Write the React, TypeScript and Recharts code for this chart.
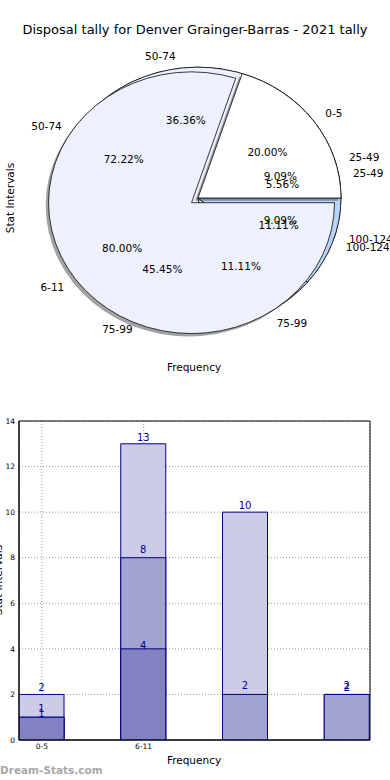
import React from 'react';
import {
  PieChart,
  Pie,
  Cell,
  BarChart,
  Bar,
  XAxis,
  YAxis,
  CartesianGrid,
  LabelList,
  ReferenceArea,
} from 'recharts';

// pie data (three overlaid pies)
const innerLabels = ['0-5', '6-11'];
const innerValues = [1, 4];
const rangeLabels = ['25-49', '50-74', '75-99', '100-124'];
const middleValues = [1, 4, 5, 1];
const outerValues = [1, 13, 2, 2];
const sliceColors = ['#FFFFFF', '#ECF1FD', '#D3E3FC', '#B7D4FA'];

// bar data (overlaid, not stacked)
const barCategories = ['0-5', '6-11', '', ''];
const lightSeries = [2, 13, 10, 2];
const mediumSeries = [1, 8, 2, 2];
const darkSeries: (number | null)[] = [1, 4, null, null];
const yTicks = [0, 2, 4, 6, 8, 10, 12, 14];

const FONT = '"DejaVu Sans", Verdana, sans-serif';
const S = 0.915; // pie is squashed into an ellipse
const CX = 198;
const CY = 198;
const R = 143;
const EXPLODE = 8;
const RAD = Math.PI / 180;

const toRows = (labels: string[], values: number[]) =>
  labels.map((name, i) => ({ name, value: values[i] }));

const innerRows = toRows(innerLabels, innerValues);
const middleRows = toRows(rangeLabels, middleValues);
const outerRows = toRows(rangeLabels, outerValues);

const barRows = barCategories.map((name, i) => ({
  name,
  pos: i + 0.225,
  light: lightSeries[i],
  medium: mediumSeries[i],
  dark: darkSeries[i],
}));

const makeLabel = (explode: number[]) => (props: any) => {
  const { index, name, percent } = props;
  let mid = props.midAngle;
  if (mid == null) mid = (props.startAngle + props.endAngle) / 2;
  const e = explode[index] || 0;
  const c = Math.cos(mid * RAD);
  const s = Math.sin(mid * RAD);
  const d1 = R * 1.1 + e;
  const d2 = R * 0.6 + e;
  const k = `scale(1,${1 / S})`;
  return (
    <g key={`lbl-${name}-${index}`}>
      <text
        transform={`translate(${CX + d1 * c},${CY - d1 * s}) ${k}`}
        textAnchor={c > 0 ? 'start' : 'end'}
        dominantBaseline="central"
        fontSize={10.5}
        fontFamily={FONT}
        fill="#000"
      >
        {name}
      </text>
      <text
        transform={`translate(${CX + d2 * c},${CY - d2 * s}) ${k}`}
        textAnchor="middle"
        dominantBaseline="central"
        fontSize={10.5}
        fontFamily={FONT}
        fill="#000"
      >
        {(percent * 100).toFixed(2)}%
      </text>
    </g>
  );
};

const shadowCells = (rows: any[], show: boolean[]) =>
  rows.map((r, i) => (
    <Cell key={`sh-${i}`} fill={show[i] ? '#474849' : 'none'} fillOpacity={0.5} stroke="none" />
  ));

const sliceCells = (rows: any[], show: boolean[]) =>
  rows.map((r, i) => (
    <Cell
      key={`c-${i}`}
      fill={show[i] ? sliceColors[i] : 'none'}
      stroke={show[i] ? '#000' : 'none'}
      strokeWidth={0.8}
    />
  ));

const barLabel = (off: number) => (props: any) => {
  const { x, y, width, value } = props;
  if (value == null) return null;
  return (
    <text x={x + width / 2} y={y - off} textAnchor="middle" fill="#00008B" fontSize={10} fontFamily={FONT}>
      {value}
    </text>
  );
};

const ex = EXPLODE * Math.cos(216 * RAD);
const ey = -EXPLODE * Math.sin(216 * RAD);
const shx = -0.02 * R;
const shy = (0.02 * R) / S;

const pieCommon = {
  dataKey: 'value',
  outerRadius: R,
  innerRadius: 0,
  startAngle: 0,
  endAngle: 360,
  isAnimationActive: false,
  labelLine: false,
};

export default function App() {
  const all4 = [true, true, true, true];
  return (
    <div
      style={{
        position: 'absolute',
        left: 0,
        top: 0,
        width: 390,
        height: 780,
        overflow: 'hidden',
        background: '#fff',
        fontFamily: FONT,
        color: '#000',
      }}
    >
      <div style={{ position: 'absolute', left: 0, top: 22, width: 390, textAlign: 'center', fontSize: 13, lineHeight: '16px' }}>
        Disposal tally for Denver Grainger-Barras - 2021 tally
      </div>

      <div style={{ position: 'absolute', left: 0, top: 0, transform: `scaleY(${S})`, transformOrigin: `0px ${CY}px` }}>
        <PieChart width={390} height={400} margin={{ top: 0, right: 0, bottom: 0, left: 0 }}>
          <Pie {...pieCommon} data={middleRows} cx={CX + shx} cy={CY + shy}>
            {shadowCells(middleRows, all4)}
          </Pie>
          <Pie {...pieCommon} data={middleRows} cx={CX} cy={CY}>
            {sliceCells(middleRows, all4)}
          </Pie>
          <Pie {...pieCommon} data={outerRows} cx={CX + shx} cy={CY + shy}>
            {shadowCells(outerRows, all4)}
          </Pie>
          <Pie {...pieCommon} data={outerRows} cx={CX} cy={CY}>
            {sliceCells(outerRows, all4)}
          </Pie>
          <Pie {...pieCommon} data={innerRows} cx={CX + shx} cy={CY + shy}>
            {shadowCells(innerRows, [true, false])}
          </Pie>
          <Pie {...pieCommon} data={innerRows} cx={CX} cy={CY}>
            {sliceCells(innerRows, [true, false])}
          </Pie>
          <Pie {...pieCommon} data={innerRows} cx={CX + ex + shx} cy={CY + ey / S + shy}>
            {shadowCells(innerRows, [false, true])}
          </Pie>
          <Pie {...pieCommon} data={innerRows} cx={CX + ex} cy={CY + ey / S}>
            {sliceCells(innerRows, [false, true])}
          </Pie>
          <Pie {...pieCommon} data={innerRows} cx={CX} cy={CY} fill="none" stroke="none" label={makeLabel([0, EXPLODE])} />
          <Pie {...pieCommon} data={middleRows} cx={CX} cy={CY} fill="none" stroke="none" label={makeLabel([0, 0, 0, 0])} />
          <Pie {...pieCommon} data={outerRows} cx={CX} cy={CY} fill="none" stroke="none" label={makeLabel([0, 0, 0, 0])} />
        </PieChart>
      </div>

      <div
        style={{
          position: 'absolute',
          left: 10,
          top: 198,
          transform: 'translate(-50%,-50%) rotate(-90deg)',
          whiteSpace: 'nowrap',
          fontSize: 10.5,
        }}
      >
        Stat Intervals
      </div>
      <div style={{ position: 'absolute', left: 94, top: 360, width: 200, textAlign: 'center', fontSize: 10.5, lineHeight: '14px' }}>
        Frequency
      </div>

      <div style={{ position: 'absolute', left: 0, top: 410 }}>
        <BarChart
          width={390}
          height={370}
          data={barRows}
          margin={{ top: 11, right: 20, bottom: 20, left: 0 }}
          barSize={45}
          barGap={-45}
        >
          <CartesianGrid stroke="#9a9a9a" strokeDasharray="1 2" />
          <XAxis
            dataKey="pos"
            type="number"
            domain={[0, 3.45]}
            ticks={[0.225, 1.225]}
            tickFormatter={(v: number) => barCategories[Math.round(v - 0.225)]}
            height={20}
            tickLine={false}
            tickSize={3}
            tickMargin={1}
            axisLine={{ stroke: '#000' }}
            tick={{ fontSize: 7.5, fill: '#000', fontFamily: FONT }}
            allowDataOverflow
          />
          <YAxis
            domain={[0, 14]}
            ticks={yTicks}
            width={19}
            tickLine={false}
            tickSize={3}
            tickMargin={1}
            axisLine={{ stroke: '#000' }}
            tick={{ fontSize: 7.5, fill: '#000', fontFamily: FONT }}
            allowDataOverflow
          />
          <Bar dataKey="light" fill="#CCCCE6" stroke="#000080" strokeWidth={1} isAnimationActive={false}>
            <LabelList dataKey="light" content={barLabel(3)} />
          </Bar>
          <Bar dataKey="medium" fill="#A3A3D1" stroke="#000080" strokeWidth={1} isAnimationActive={false}>
            <LabelList dataKey="medium" content={barLabel(5)} />
          </Bar>
          <Bar dataKey="dark" fill="#8282C2" stroke="#000080" strokeWidth={1} isAnimationActive={false}>
            <LabelList dataKey="dark" content={barLabel(0)} />
          </Bar>
          <ReferenceArea x1={0} x2={3.45} y1={0} y2={14} fill="none" stroke="#000" strokeWidth={1} />
        </BarChart>
      </div>

      <div
        style={{
          position: 'absolute',
          left: -2,
          top: 580,
          transform: 'translate(-50%,-50%) rotate(-90deg)',
          whiteSpace: 'nowrap',
          fontSize: 10.5,
        }}
      >
        Stat Intervals
      </div>
      <div style={{ position: 'absolute', left: 94, top: 753, width: 200, textAlign: 'center', fontSize: 10.5, lineHeight: '14px' }}>
        Frequency
      </div>
      <div style={{ position: 'absolute', left: 0, top: 763, fontSize: 10.5, fontWeight: 'bold', color: '#a8a8a8', lineHeight: '14px' }}>
        Dream-Stats.com
      </div>
    </div>
  );
}
